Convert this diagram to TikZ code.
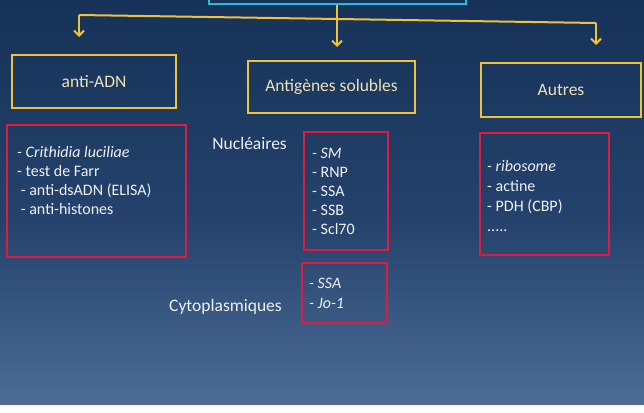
\documentclass[tikz,border=0pt]{standalone}
\usepackage{fontspec}
\setmainfont{Carlito}
\usetikzlibrary{arrows.meta,positioning}

\definecolor{fondhaut}{RGB}{22,50,88}
\definecolor{fondmilieu}{RGB}{36,66,108}
\definecolor{fondbas}{RGB}{76,108,150}
\definecolor{jaune}{RGB}{240,194,56}
\definecolor{rouge}{RGB}{226,26,62}
\definecolor{turquoise}{RGB}{48,186,214}
\definecolor{creme}{RGB}{236,226,182}
\definecolor{blanc}{RGB}{238,240,245}

\begin{document}
\begin{tikzpicture}[x=1pt,y=-1pt,
	titre/.style={draw=jaune,line width=2.2pt,text=creme,font=\fontsize{17.5}{21}\selectfont},
	cadre/.style={draw=rouge,line width=2.2pt},
	item/.style={text=blanc,font=\fontsize{16}{19}\selectfont,inner sep=0pt,anchor=base west},
	groupe/.style={text=blanc,font=\fontsize{17.5}{21}\selectfont,inner sep=0pt},
	trait/.style={draw=jaune,line width=2pt},
	fleche/.style={trait,-{Straight Barb[length=5pt,width=10pt]}}]
		\useasboundingbox (0,0) rectangle (644,412);
		\clip (0,0) rectangle (644,412);
		\shade[top color=fondhaut,bottom color=fondmilieu] (0,0) rectangle (644,220);
		\shade[top color=fondmilieu,bottom color=fondbas] (0,220) rectangle (644,405);
		\fill[white] (0,405) rectangle (644,412);

		\node[draw=turquoise,fill=fondhaut,line width=2pt,minimum width=257pt,minimum height=30pt,anchor=south] (racine) at (337,5) {};
		\coordinate (coing) at (79,15);
		\coordinate (coind) at (596,23);
		\coordinate (pointeg) at (79,37);
		\coordinate (pointem) at (337,47);
		\coordinate (pointed) at (596,45);
		\draw[trait] (coing) -- (coind);
		\draw[fleche] (coing) -- (pointeg);
		\draw[fleche] (racine.south) -- (pointem);
		\draw[fleche] (coind) -- (pointed);

		\node[titre,minimum width=164pt,minimum height=53pt] (adn) at (94,81.5) {anti-ADN};
		\node[titre,minimum width=167pt,minimum height=52pt] (antigenes) at (331.5,87) {Antigènes solubles};
		\node[titre,minimum width=160pt,minimum height=54pt] (autres) at (561,90) {Autres};

		\node[cadre,minimum width=179pt,minimum height=132pt] (cadreadn) at (96.5,191) {};
		\node[cadre,minimum width=84pt,minimum height=118pt] (cadrenuc) at (346,191) {};
		\node[cadre,minimum width=85pt,minimum height=60pt] (cadrecyto) at (344.5,293) {};
		\node[cadre,minimum width=129pt,minimum height=122pt] (cadreautres) at (544.5,194) {};

		\node[groupe,anchor=east] (nucleaires) at (287,143) {Nucléaires};
		\node[groupe,anchor=east] (cytoplasmiques) at (282,307) {Cytoplasmiques};

		\foreach \t [count=\i] in {{\itshape - Crithidia luciliae},- test de Farr,\ - anti-dsADN (ELISA),\ - anti-histones}
			\node[item] (adn\i) at (17,157+19*\i-19) {\t};
		\foreach \t [count=\i] in {{\itshape - SM},- RNP,- SSA,- SSB,- Scl70}
			\node[item] (nuc\i) at (312,158+19*\i-19) {\t};
		\foreach \t [count=\i] in {{\itshape - SSA},{\itshape - Jo-1}}
			\node[item] (cyto\i) at (309,288+20*\i-20) {\t};
		\foreach \t [count=\i] in {{\itshape - ribosome},- actine,- PDH (CBP),{.{}.{}.{}.{}.}}
			\node[item] (autres\i) at (487,171+20*\i-20) {\t};
	\end{tikzpicture}
\end{document}
